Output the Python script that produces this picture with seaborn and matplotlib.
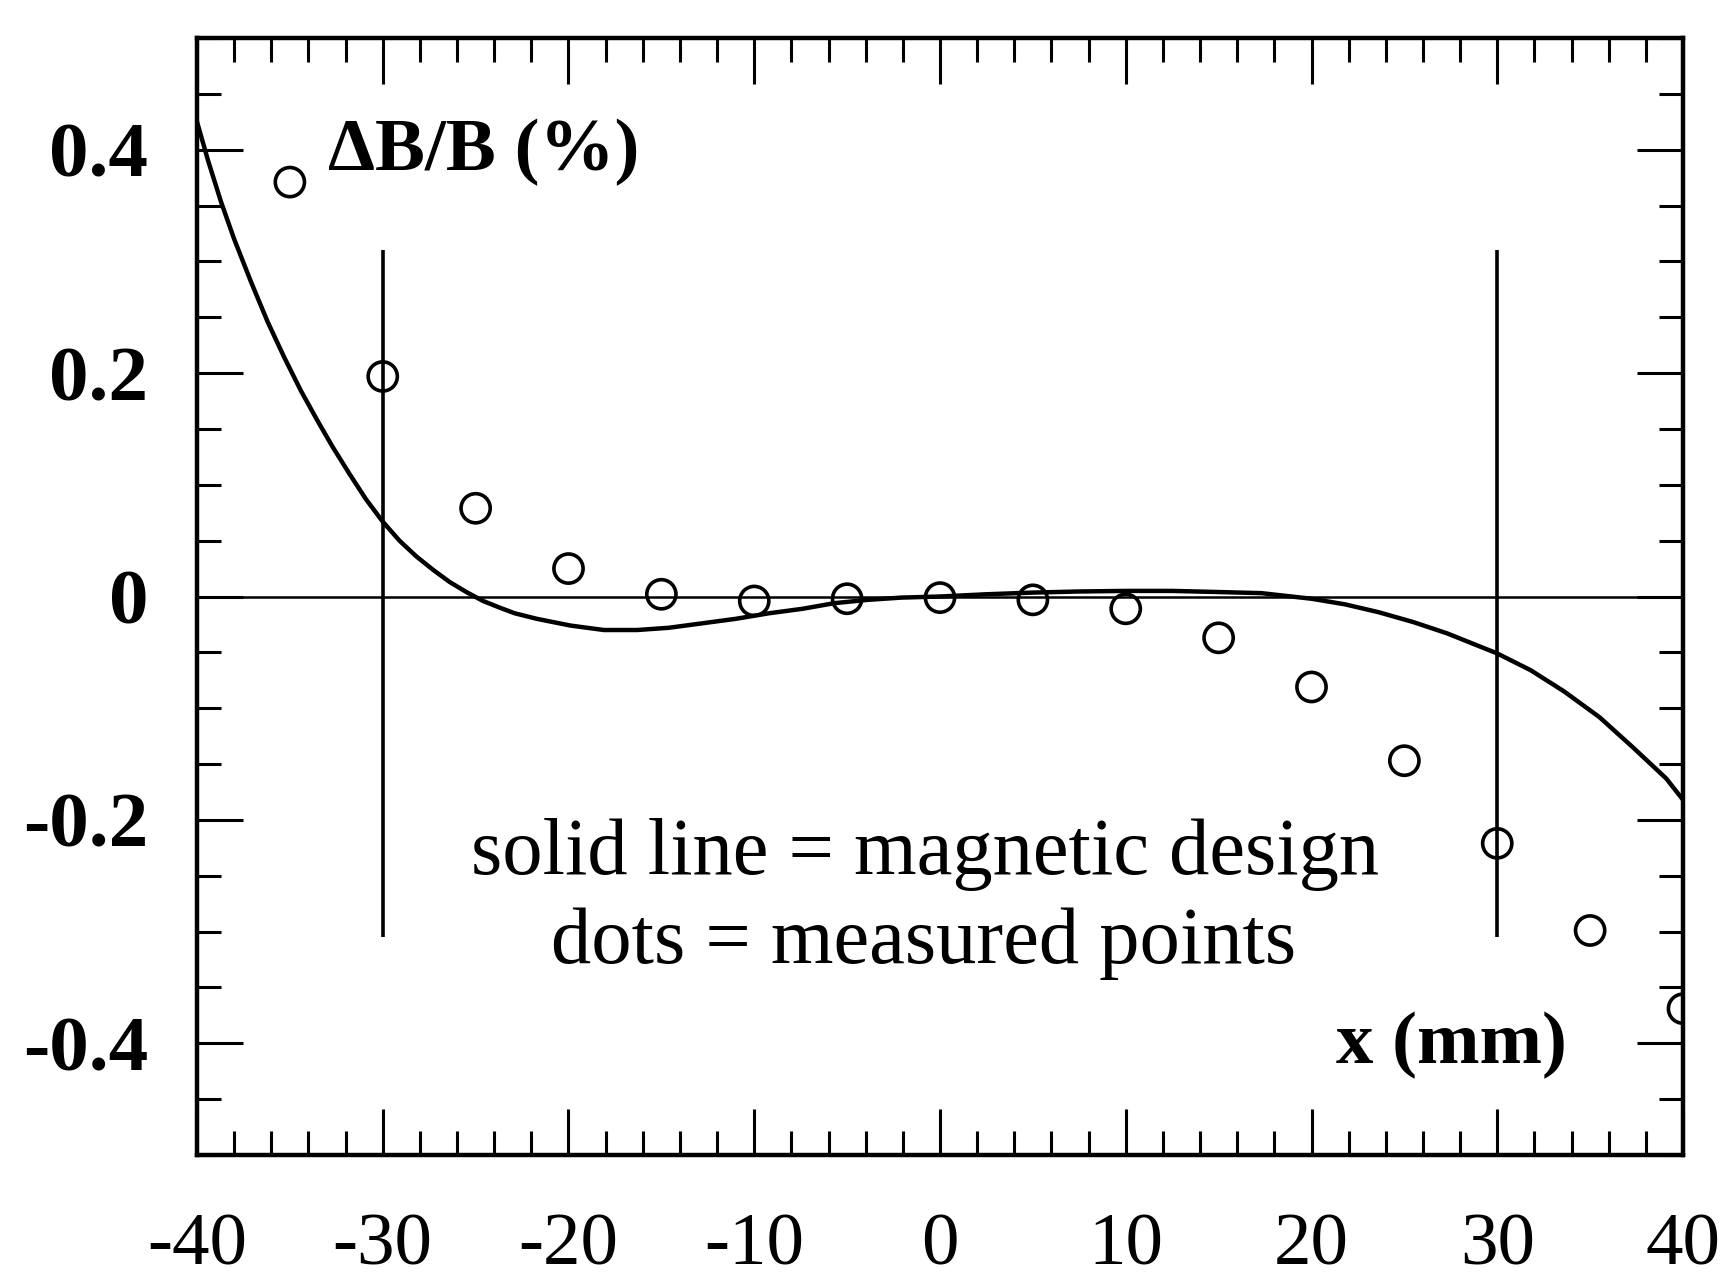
import matplotlib
matplotlib.use("Agg")
import matplotlib.pyplot as plt
from matplotlib.ticker import FixedLocator, MultipleLocator
import seaborn as sns

# Magnetic design curve: field deviation dB/B (%) versus transverse position x (mm)
design_x = [-40.0, -39.4, -38.7, -38.0, -37.1, -36.2, -35.3, -34.4, -33.5, -32.7,
            -31.8, -30.9, -30.0, -29.1, -28.2, -27.3, -26.4, -25.5, -24.6, -23.7,
            -22.9, -21.7, -19.9, -18.1, -16.3, -14.6, -12.8, -11.0, -9.2, -7.4,
            -5.7, -3.9, -2.1, 0.0, 2.5, 5.0, 7.5, 10.0, 12.5, 15.0,
            17.3, 20.0, 21.8, 23.6, 25.5, 27.3, 29.1, 30.0, 31.8, 33.6,
            35.5, 37.3, 39.1, 40.0]
design_y = [0.425, 0.390, 0.353, 0.320, 0.282, 0.246, 0.214, 0.184, 0.157, 0.134,
            0.110, 0.087, 0.067, 0.050, 0.036, 0.024, 0.013, 0.004, -0.004, -0.010,
            -0.015, -0.020, -0.026, -0.030, -0.030, -0.028, -0.024, -0.020, -0.015, -0.011,
            -0.006, -0.003, -0.001, 0.000, 0.002, 0.0035, 0.0045, 0.005, 0.005, 0.004,
            0.003, -0.002, -0.007, -0.014, -0.023, -0.033, -0.045, -0.051, -0.066, -0.085,
            -0.108, -0.135, -0.163, -0.182]

# Measured points
measured_x = [-35, -30, -25, -20, -15, -10, -5, 0, 5, 10, 15, 20, 25, 30, 35, 40]
measured_y = [0.371, 0.197, 0.079, 0.025, 0.002, -0.004, -0.002, -0.001, -0.003,
              -0.011, -0.037, -0.081, -0.147, -0.221, -0.299, -0.369]

# Good-field region markers
region_x = [-30, 30]
region_span = [-0.305, 0.31]

x_ticks = [-40, -30, -20, -10, 0, 10, 20, 30, 40]
x_tick_labels = ["-40", "-30", "-20", "-10", "0", "10", "20", "30", "40"]
y_ticks = [-0.4, -0.2, 0.0, 0.2, 0.4]
y_tick_labels = ["-0.4", "-0.2", "0", "0.2", "0.4"]

sns.set_style("ticks")
plt.rcParams["font.family"] = ["Liberation Serif", "DejaVu Serif"]
plt.rcParams["axes.unicode_minus"] = False

W, H = 1731, 1281
fig = plt.figure(figsize=(W / 100, H / 100), dpi=100, facecolor="white")
left, right, top, bottom = 197, 1683, 38, 1155
ax = fig.add_axes([left / W, 1 - bottom / H, (right - left) / W, (bottom - top) / H])
ax.set_facecolor("white")

ax.axhline(0, color="black", lw=1.8, zorder=1)
ax.vlines(region_x, region_span[0], region_span[1], color="black", lw=2.6, zorder=1)

sns.lineplot(x=design_x, y=design_y, ax=ax, color="black", lw=3.2,
             estimator=None, sort=False, zorder=3)
sns.scatterplot(x=measured_x, y=measured_y, ax=ax, s=21 ** 2, marker="o",
                facecolor="none", edgecolor="black", linewidth=2.6, zorder=4)
ax.collections[-1].set_facecolor("none")
ax.collections[-1].set_edgecolor("black")

ax.set_xlim(-40, 40)
ax.set_ylim(-0.5, 0.5)
ax.xaxis.set_major_locator(FixedLocator(x_ticks))
ax.set_xticklabels(x_tick_labels)
ax.xaxis.set_minor_locator(MultipleLocator(2))
ax.yaxis.set_major_locator(FixedLocator(y_ticks))
ax.set_yticklabels(y_tick_labels)
ax.yaxis.set_minor_locator(MultipleLocator(0.05))

ax.tick_params(which="both", direction="in", top=True, right=True,
               width=2.2, color="black")
ax.tick_params(which="major", length=33)
ax.tick_params(which="minor", length=17)
ax.tick_params(axis="x", pad=42, labelsize=54, labelcolor="black")
ax.tick_params(axis="y", pad=35, labelsize=57, labelcolor="black")
for lbl in ax.get_yticklabels():
    lbl.set_fontweight("bold")

for sp in ax.spines.values():
    sp.set_visible(True)
    sp.set_linewidth(3.2)
    sp.set_color("black")

ax.set_xlabel("")
ax.set_ylabel("")

ax.text(-32.95, 0.382, "\u0394B/B (%)", fontsize=54, fontweight="bold",
        ha="left", va="baseline", color="black")
ax.text(-0.8, -0.248, "solid line = magnetic design", fontsize=58,
        ha="center", va="baseline", color="black")
ax.text(-0.9, -0.328, "dots = measured points", fontsize=58,
        ha="center", va="baseline", color="black")
ax.text(27.56, -0.418, "x (mm)", fontsize=54, fontweight="bold",
        ha="center", va="baseline", color="black")

fig.savefig("out.png", dpi=100, facecolor="white")
